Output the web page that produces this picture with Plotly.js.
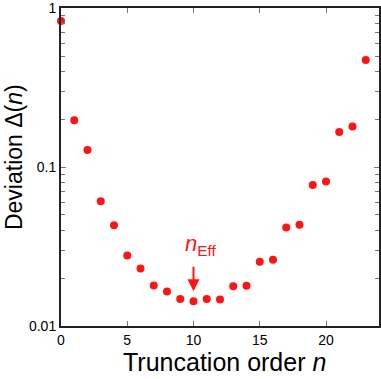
<!DOCTYPE html>
<html>
<head>
<meta charset="utf-8">
<script src="https://cdn.plot.ly/plotly-3.0.1.min.js"></script>
<style>html,body{margin:0;padding:0;background:#fff;}#chart{width:381px;height:379px;}</style>
</head>
<body>
<div id="chart"></div>
<script>
const orders = [0,1,2,3,4,5,6,7,8,9,10,11,12,13,14,15,16,17,18,19,20,21,22,23];
const deviation = [0.83,0.197,0.128,0.061,0.043,0.0278,0.023,0.018,0.0165,0.0148,0.0143,0.0148,0.0147,0.0178,0.0179,0.0254,0.0261,0.0416,0.0434,0.0772,0.081,0.166,0.18,0.471];
const xTickVals = [0,5,10,15,20];
const yTickVals = [0.01,0.1,1];
const yTickText = ['0.01','0.1','1'];
const yMinorVals = [0.02,0.03,0.04,0.05,0.06,0.07,0.08,0.09,0.2,0.3,0.4,0.5,0.6,0.7,0.8,0.9];
const xTitle = 'Truncation order <i>n</i>';
const yTitle = 'Deviation Δ(<i>n</i>)';
const nEff = 10;
const nEffValue = deviation[orders.indexOf(nEff)];

const red = '#ff1414';
const trace = {
  x: orders, y: deviation, type: 'scatter', mode: 'markers',
  marker: {color: red, size: 8}, cliponaxis: false, showlegend: false
};
const font = 'Liberation Sans, Arial, sans-serif';
const layout = {
  width: 381, height: 379,
  margin: {l: 61, r: 2, t: 8, b: 53},
  paper_bgcolor: '#fff', plot_bgcolor: '#fff',
  font: {family: font, color: '#000', size: 14},
  xaxis: {
    range: [0, 24], tickmode: 'array', tickvals: xTickVals,
    ticks: 'inside', ticklen: 5, tickcolor: '#777', tickwidth: 1,
    showline: true, linecolor: '#222', linewidth: 2, mirror: 'allticks',
    showgrid: false, zeroline: false,
    tickfont: {size: 14, family: font}
  },
  yaxis: {
    type: 'log', range: [-2, 0.001], tickmode: 'array', tickvals: yTickVals, ticktext: yTickText,
    ticks: 'inside', ticklen: 5, tickcolor: '#777', tickwidth: 1, ticklabeloverflow: 'allow',
    minor: {tickmode: 'array', tickvals: yMinorVals, ticks: 'inside', ticklen: 4, tickcolor: '#777', showgrid: false},
    showline: true, linecolor: '#222', linewidth: 2, mirror: 'allticks',
    showgrid: false, zeroline: false,
    tickfont: {size: 14, family: font}
  },
  annotations: [
    {x: nEff, y: Math.log10(nEffValue), xref: 'x', yref: 'y', text: '', showarrow: true,
     ax: 0, ay: -36, standoff: 10, arrowcolor: red, arrowwidth: 2, arrowhead: 2, arrowsize: 1.2},
    {x: nEff, y: Math.log10(nEffValue), xref: 'x', yref: 'y', text: '<i>n</i><sub>Eff</sub>',
     showarrow: false, yshift: 56, xshift: 7, font: {color: red, size: 22, family: font}},
    {x: 0.514, y: -0.113, xref: 'paper', yref: 'paper', text: xTitle, showarrow: false,
     xanchor: 'center', yanchor: 'middle', font: {size: 25, family: font, color: '#000'}},
    {x: -0.146, y: 0.53, xref: 'paper', yref: 'paper', text: yTitle, showarrow: false, textangle: -90,
     xanchor: 'center', yanchor: 'middle', font: {size: 23, family: font, color: '#000'}}
  ]
};
Plotly.newPlot('chart', [trace], layout, {displayModeBar: false, staticPlot: true});
</script>
</body>
</html>
